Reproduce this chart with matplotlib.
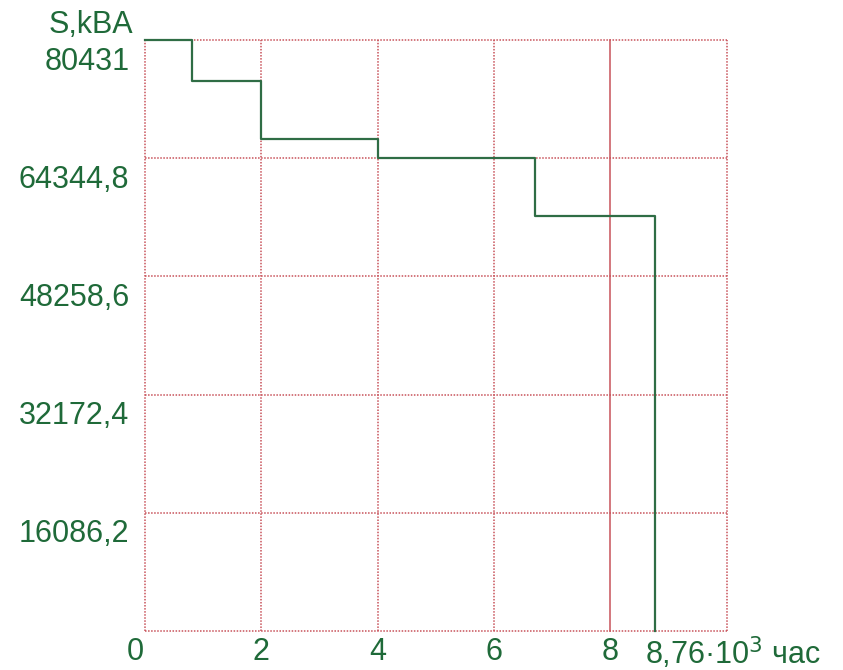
import matplotlib.pyplot as plt
from matplotlib.transforms import ScaledTranslation

# Annual load duration curve, time in 10^3 hours
step_edges = [0, 0.8, 2, 4, 6.7, 8.76]
load_kva = [80431, 74810, 66998, 64344.8, 56519]

y_ticks = [80431, 64344.8, 48258.6, 32172.4, 16086.2]
y_labels = ['80431', '64344,8', '48258,6', '32172,4', '16086,2']
x_ticks = [0, 2, 4, 6, 8]
x_labels = ['0', '2', '4', '6', '8']
x_grid = [0, 2, 4, 6, 8, 10]
y_grid = [0, 16086.2, 32172.4, 48258.6, 64344.8, 80431]

text_col = '#1f6a39'
line_col = '#2f6d45'
grid_col = '#c8525a'

plt.rcParams['font.family'] = ['Liberation Sans', 'DejaVu Sans']

fig = plt.figure(figsize=(8.43, 6.70), dpi=100)
ax = fig.add_axes([0.172, 0.0582, 0.69, 0.882])
ax.set_xlim(0, 10)
ax.set_ylim(0, 80431)

for s in ax.spines.values():
    s.set_visible(False)

# Grid: dotted red, solid line at x = 8
for x in x_grid:
    ls = '-' if x == 8 else (0, (1, 1))
    ax.axvline(x, color=grid_col, lw=1.1, ls=ls, clip_on=False, zorder=1)
for y in y_grid:
    ax.axhline(y, color=grid_col, lw=1.1, ls=(0, (1, 1)), clip_on=False, zorder=1)

# Step line
xs = step_edges + [step_edges[-1]]
ys = load_kva + [load_kva[-1], 0]
ax.step(xs, ys, where='post', color=line_col, lw=1.6, zorder=3, clip_on=False)

ax.tick_params(length=0, labelsize=22, labelcolor=text_col, pad=4)
ax.set_yticks(y_ticks)
ax.set_yticklabels(y_labels)
ax.set_xticks(x_ticks)
ax.set_xticklabels(x_labels)

for lab in ax.get_yticklabels():
    lab.set_transform(lab.get_transform() + ScaledTranslation(-0.1, -0.18, fig.dpi_scale_trans))
ax.get_xticklabels()[0].set_transform(
    ax.get_xticklabels()[0].get_transform() + ScaledTranslation(-0.1, 0, fig.dpi_scale_trans))

# Axis captions
ax.text(-0.021, 1.025, 'S,kBA', transform=ax.transAxes, ha='right', va='center',
        fontsize=22, color=text_col)
lab = ax.text(step_edges[-1], 0, '8,76·10$^3$ час', transform=ax.get_xaxis_transform(),
              ha='left', va='top', fontsize=22, color=text_col)
lab.set_transform(lab.get_transform() + ScaledTranslation(-0.1, -0.035, fig.dpi_scale_trans))

fig.savefig('out.png', dpi=100)
